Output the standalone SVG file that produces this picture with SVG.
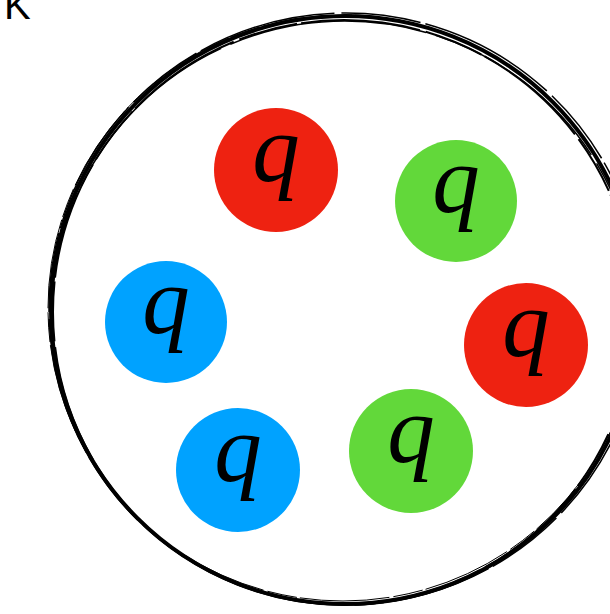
<svg xmlns="http://www.w3.org/2000/svg" width="610" height="614" viewBox="0 0 610 614">
<style>
.q{font-family:"Liberation Serif","Times New Roman",serif;font-style:italic;font-size:95px;fill:#000;text-anchor:middle}
.red{fill:#EE2211}.green{fill:#62D83A}.blue{fill:#00A2FF}
.ring{fill:none;stroke:#000}
</style>
<rect width="610" height="614" fill="#fff"/>
<text x="4" y="19" font-family="Liberation Sans, Arial, sans-serif" font-size="40" fill="#000">K</text>
<g id="hadron">
<ellipse class="ring" cx="345" cy="310" rx="294" ry="294" stroke-width="4"/>
<ellipse class="ring" cx="344" cy="312" rx="291" ry="292" stroke-width="2" stroke-dasharray="120 6 60 4"/>
<ellipse class="ring" cx="346" cy="309" rx="297" ry="296" stroke-width="1.5" stroke-dasharray="80 5 140 7"/>
<ellipse class="ring" cx="345" cy="313" rx="293" ry="292" stroke-width="1.5" stroke-dasharray="200 10"/>
<ellipse class="ring" cx="343" cy="308" rx="295" ry="293" stroke-width="1" stroke-dasharray="30 4 90 3"/>
</g>
<g id="q1"><circle class="red" cx="276" cy="170" r="62"/><text class="q" x="276" y="181">q</text></g>
<g id="q2"><circle class="green" cx="456" cy="201" r="61"/><text class="q" x="456" y="212">q</text></g>
<g id="q3"><circle class="blue" cx="166" cy="322" r="61"/><text class="q" x="166" y="333">q</text></g>
<g id="q4"><circle class="red" cx="526" cy="345" r="62"/><text class="q" x="526" y="356">q</text></g>
<g id="q5"><circle class="green" cx="411" cy="451" r="62"/><text class="q" x="411" y="462">q</text></g>
<g id="q6"><circle class="blue" cx="238" cy="470" r="62"/><text class="q" x="238" y="481">q</text></g>
<g id="connectors"/>
</svg>
